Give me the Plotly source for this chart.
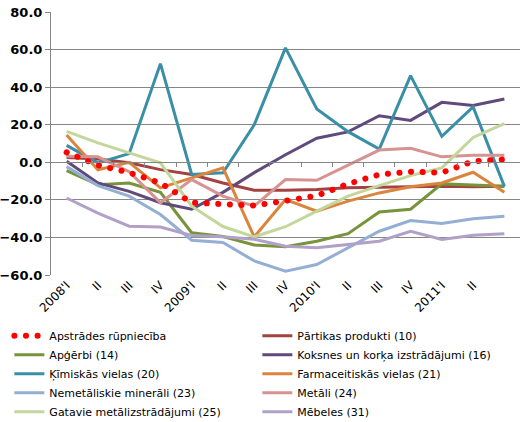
import plotly.graph_objects as go

quarters = ["2008'I", "II", "III", "IV", "2009'I", "II", "III", "IV",
            "2010'I", "II", "III", "IV", "2011'I", "II", ""]
x_idx = list(range(len(quarters)))

apstrades = [5.3, -1.5, -5.5, -11.0, -21.5, -22.5, -23.0, -20.5, -17.8, -11.5, -6.5, -5.0, -5.5, 0.5, 1.5]
partikas = [2.5, 1.8, -0.3, -3.9, -6.5, -11.0, -14.9, -14.9, -14.5, -13.6, -13.3, -13.0, -12.8, -13.0, -12.8]
apgerbi = [-4.5, -12.0, -11.0, -16.0, -37.5, -39.5, -44.0, -45.0, -42.0, -38.0, -26.5, -25.0, -11.5, -12.0, -12.8]
koksnes = [0.5, -11.0, -15.5, -21.5, -25.0, -16.0, -5.5, 4.0, 12.8, 16.2, 24.8, 22.3, 31.9, 30.2, 33.7]
kimiskas = [9.0, -0.3, 4.6, 52.5, -6.5, -5.6, 20.0, 60.9, 28.4, 16.3, 7.0, 46.1, 13.8, 29.5, -12.8]
farmaceitiskas = [14.5, -4.0, 0.0, -13.6, -8.3, -3.0, -39.7, -19.8, -26.0, -20.7, -16.3, -13.0, -11.0, -5.3, -16.0]
nemetaliskie = [-2.3, -12.4, -18.0, -27.8, -41.5, -42.7, -52.5, -58.0, -54.4, -45.5, -36.7, -31.0, -32.6, -30.1, -28.7]
metali = [3.2, 2.9, -5.0, -21.5, -9.2, -18.0, -23.3, -9.2, -9.6, -1.5, 6.5, 7.5, 2.9, 3.7, 3.7]
gatavie = [16.5, 10.3, 5.0, -0.3, -23.4, -34.2, -39.7, -34.3, -26.0, -18.0, -12.4, -7.1, -3.0, 13.2, 20.6]
mebeles = [-19.0, -27.0, -34.0, -34.5, -39.0, -39.7, -41.0, -44.7, -45.5, -43.8, -42.0, -36.7, -41.1, -38.8, -38.1]

series = [
    ("Apstrādes rūpniecība", apstrades, "#FF0000"),
    ("Pārtikas produkti (10)", partikas, "#A3423F"),
    ("Apģērbi (14)", apgerbi, "#77933C"),
    ("Koksnes un korķa izstrādājumi (16)", koksnes, "#604A7B"),
    ("Ķīmiskās vielas (20)", kimiskas, "#3A8FA6"),
    ("Farmaceitiskās vielas (21)", farmaceitiskas, "#DB843D"),
    ("Nemetāliskie minerāli (23)", nemetaliskie, "#94AFD3"),
    ("Metāli (24)", metali, "#D69391"),
    ("Gatavie metālizstrādājumi (25)", gatavie, "#C3D69B"),
    ("Mēbeles (31)", mebeles, "#B1A0C7"),
]

y_ticks = [-60, -40, -20, 0, 20, 40, 60, 80]

fig = go.Figure()

# draw order: keep red dotted on top
draw_order = list(range(1, len(series))) + [0]
for i in draw_order:
    name, vals, col = series[i]
    if i == 0:
        line = dict(color=col, width=6, dash="5px,6.5px")
    else:
        line = dict(color=col, width=3)
    fig.add_trace(go.Scatter(x=x_idx, y=vals, mode="lines", name=name,
                             line=line, legendrank=i + 1))

# invisible trace to carry the secondary x axis (tick marks on the zero line)
fig.add_trace(go.Scatter(x=x_idx, y=apstrades, xaxis="x2", mode="lines",
                         line=dict(width=0), showlegend=False, hoverinfo="skip",
                         opacity=0))

fig.update_layout(
    width=523, height=422,
    margin=dict(l=51, r=3, t=12, b=147, autoexpand=False),
    paper_bgcolor="white", plot_bgcolor="white",
    font=dict(family="DejaVu Sans", size=11, color="black"),
    showlegend=True,
    legend=dict(orientation="h", xref="paper", yref="paper",
                x=-0.0888, y=-0.1757, xanchor="left", yanchor="top",
                entrywidth=203, entrywidthmode="pixels",
                font=dict(family="DejaVu Sans", size=11, color="black"),
                itemwidth=30, tracegroupgap=0),
    xaxis=dict(range=[-0.5, len(quarters) - 0.5], tickmode="array",
               tickvals=x_idx, ticktext=quarters, tickangle=-45,
               showgrid=False, zeroline=False, showline=False, ticks="",
               tickfont=dict(family="DejaVu Sans", size=12, color="black")),
    xaxis2=dict(range=[-0.5, len(quarters) - 0.5], overlaying="x",
                anchor="free", position=60 / 140, side="bottom",
                tickmode="array", tickvals=[v + 0.5 for v in x_idx[:-1]],
                ticks="outside", ticklen=4, tickcolor="#868686",
                showticklabels=False, showgrid=False, zeroline=False,
                showline=True, linecolor="#868686", linewidth=1),
    yaxis=dict(range=[-60, 80], tickmode="array", tickvals=y_ticks,
               tickformat=".1f", showgrid=True, gridcolor="#868686", gridwidth=1,
               zeroline=False, showline=True, linecolor="#868686", linewidth=1,
               ticks="outside", ticklen=5, tickcolor="#868686",
               tickfont=dict(family="DejaVu Sans", size=13, color="black",
                             weight="bold")),
)

round_dots_js = """
(function(){
  function fix(){
    var paths = document.querySelectorAll('path.js-line');
    paths.forEach(function(p){
      var s = p.style.stroke || '';
      if (s.replace(/\\s/g,'') === 'rgb(255,0,0)') {
        p.style.strokeLinecap = 'round';
        p.style.strokeDasharray = '0.1px,11.5px';
      }
    });
  }
  fix();
  var gd = document.querySelector('.plotly-graph-div');
  if (gd && gd.on) { gd.on('plotly_afterplot', fix); }
  setTimeout(fix, 50);
})();
"""

fig.write_html("out.html", post_script=round_dots_js)
